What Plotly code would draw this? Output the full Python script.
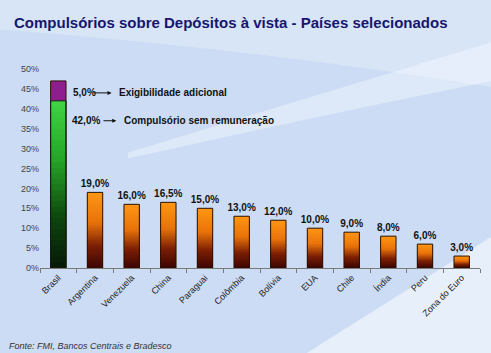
import plotly.graph_objects as go

categories = ["Brasil", "Argentina", "Venezuela", "China", "Paraguai", "Colômbia",
              "Bolívia", "EUA", "Chile", "Índia", "Peru", "Zona do Euro"]
values = [47.0, 19.0, 16.0, 16.5, 15.0, 13.0, 12.0, 10.0, 9.0, 8.0, 6.0, 3.0]
brasil_base = 42.0      # Compulsório sem remuneração
brasil_extra = 5.0      # Exigibilidade adicional
y_ticks = [0, 5, 10, 15, 20, 25, 30, 35, 40, 45, 50]

FONT = "Liberation Sans, Arial, sans-serif"
N = 30
BW = 0.42


def lerp(stops, f):
    for (f0, c0), (f1, c1) in zip(stops, stops[1:]):
        if f0 <= f <= f1:
            t = (f - f0) / (f1 - f0) if f1 > f0 else 0
            return "rgb(%d,%d,%d)" % tuple(round(a + (b - a) * t) for a, b in zip(c0, c1))
    return "rgb(%d,%d,%d)" % stops[-1][1]


orange = [(0.0, (60, 4, 0)), (0.3, (125, 32, 5)), (0.6, (232, 115, 10)), (1.0, (255, 150, 20))]
green = [(0.0, (6, 24, 6)), (0.3, (14, 70, 14)), (0.65, (38, 165, 38)), (1.0, (66, 212, 66))]

fig = go.Figure()

others = categories[1:]
ov = values[1:]
# gradient: tallest (top colour) first, shorter ones drawn over it
for k in range(N - 1, -1, -1):
    f = (k + 0.5) / N
    fig.add_bar(x=others, y=[v * (k + 1) / N for v in ov],
                width=BW, marker=dict(color=lerp(orange, f), line=dict(width=0)),
                hoverinfo="skip", showlegend=False)
    fig.add_bar(x=[categories[0]], y=[brasil_base * (k + 1) / N],
                width=BW, marker=dict(color=lerp(green, f), line=dict(width=0)),
                hoverinfo="skip", showlegend=False)

fig.add_bar(x=[categories[0]], y=[brasil_extra], base=[brasil_base], width=BW,
            marker=dict(color="#8e1e8e", line=dict(width=0)), showlegend=False)

labels = [""] + [("%.1f%%" % v).replace(".", ",") for v in ov]
fig.add_bar(x=categories, y=values, width=BW, text=["<b>%s</b>" % t for t in labels],
            textposition="outside", cliponaxis=False, constraintext="none",
            textfont=dict(family=FONT, size=10, color="#111111"),
            marker=dict(color="rgba(0,0,0,0)", line=dict(color="#2a1000", width=1)),
            showlegend=False)
fig.add_bar(x=[categories[0]], y=[brasil_base], width=BW,
            marker=dict(color="rgba(0,0,0,0)", line=dict(color="#102010", width=1)),
            showlegend=False)

ann = [
    dict(x=0.34, y=44.0, text="<b>%s</b>" % ("%.1f%%" % brasil_extra).replace(".", ","), xanchor="left"),
    dict(x=1.59, y=44.0, text="<b>Exigibilidade adicional</b>", xanchor="left"),
    dict(x=0.32, y=37.0, text="<b>%s</b>" % ("%.1f%%" % brasil_base).replace(".", ","), xanchor="left"),
    dict(x=1.73, y=37.0, text="<b>Compulsório sem remuneração</b>", xanchor="left"),
]
annotations = []
for a in ann:
    annotations.append(dict(xref="x", yref="y", showarrow=False, yanchor="middle",
                            font=dict(family=FONT, size=10, color="#111111"), **a))
# arrows
annotations.append(dict(xref="x", yref="y", x=1.45, y=44.0, ax=0.92, ay=44.0,
                        axref="x", ayref="y", showarrow=True, arrowhead=2, arrowsize=0.8,
                        arrowwidth=1, arrowcolor="#111111", text=""))
annotations.append(dict(xref="x", yref="y", x=1.58, y=37.0, ax=1.19, ay=37.0,
                        axref="x", ayref="y", showarrow=True, arrowhead=2, arrowsize=0.8,
                        arrowwidth=1, arrowcolor="#111111", text=""))
annotations.append(dict(xref="paper", yref="paper", x=-0.064, y=1.235, xanchor="left", yanchor="middle",
                        showarrow=False,
                        text="<b>Compulsórios sobre Depósitos à vista - Países selecionados</b>",
                        font=dict(family=FONT, size=15, color="#16166e")))
annotations.append(dict(xref="paper", yref="paper", x=-0.075, y=-0.39, xanchor="left", yanchor="middle",
                        showarrow=False, text="<i>Fonte: FMI, Bancos Centrais e Bradesco</i>",
                        font=dict(family=FONT, size=9, color="#333333")))

shapes = [
    dict(type="path", xref="paper", yref="paper", layer="below",
         path="M 0.2 0.55 Q 0.6 0.75 1.05 0.95 L 1.05 1.15 Q 0.6 0.85 0.2 0.58 Z",
         fillcolor="rgba(255,255,255,0.35)", line=dict(width=0)),
    dict(type="path", xref="paper", yref="paper", layer="below",
         path="M -0.1 1.45 L 1.05 1.45 L 1.05 0.9 Q 0.5 1.1 -0.1 1.2 Z",
         fillcolor="rgba(255,255,255,0.25)", line=dict(width=0)),
    dict(type="path", xref="paper", yref="paper", layer="below",
         path="M 0.59 -0.45 L 1.05 0.19 L 1.05 -0.45 Z",
         fillcolor="rgba(255,255,255,0.55)", line=dict(width=0)),
]

fig.update_layout(
    barmode="overlay",
    width=491, height=353,
    margin=dict(l=40, r=11, t=69, b=85),
    paper_bgcolor="#cbdcf4",
    plot_bgcolor="rgba(0,0,0,0)",
    annotations=annotations,
    shapes=shapes,
    font=dict(family=FONT),
)
fig.update_xaxes(type="category", categoryorder="array", categoryarray=categories,
                 showline=True, linecolor="#7a7a7a", linewidth=1,
                 ticks="outside", ticklen=4, tickcolor="#7a7a7a", tickson="boundaries",
                 tickangle=-45, tickfont=dict(family=FONT, size=9, color="#222222"),
                 showgrid=False, range=[-0.5, len(categories) - 0.5])
fig.update_yaxes(range=[0, 50], tickvals=y_ticks, ticktext=["%d%%" % t for t in y_ticks],
                 showgrid=False, zeroline=False, showline=False,
                 tickfont=dict(family=FONT, size=9, color="#444444"))

fig.write_html("out.html")
